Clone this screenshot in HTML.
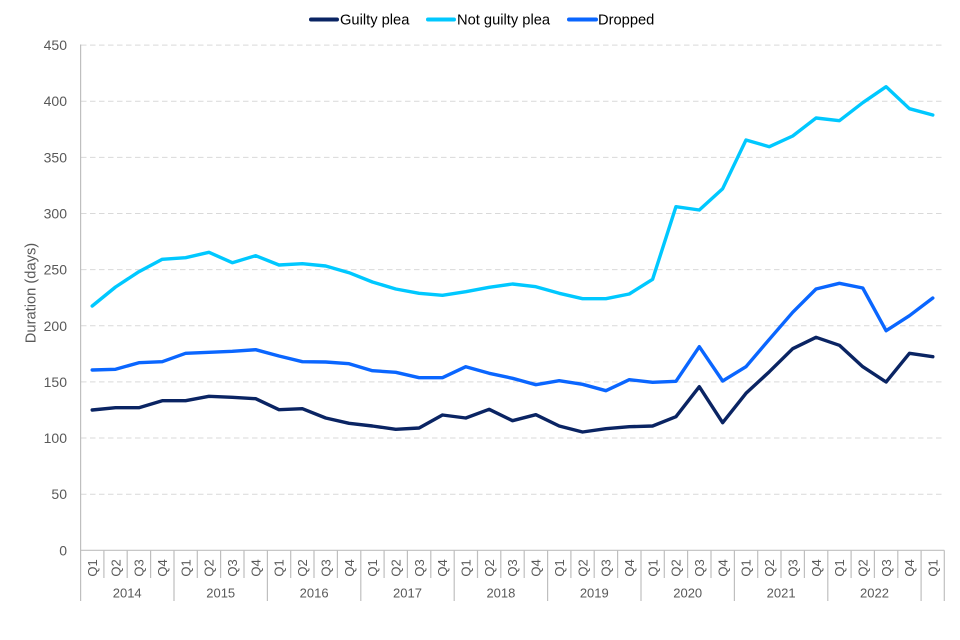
<!DOCTYPE html>
<html><head><meta charset="utf-8"><style>
html,body{margin:0;padding:0;background:#fff;}
svg{display:block;font-family:"Liberation Sans",Arial,sans-serif;}
</style></head><body>
<svg width="960" height="640" viewBox="0 0 960 640" xmlns="http://www.w3.org/2000/svg">
<!-- gridlines -->
<g stroke="#d9d9d9" stroke-width="1" stroke-dasharray="5.5,3.5">
<line x1="81" y1="494.2" x2="944" y2="494.2"/>
<line x1="81" y1="438" x2="944" y2="438"/>
<line x1="81" y1="381.9" x2="944" y2="381.9"/>
<line x1="81" y1="325.8" x2="944" y2="325.8"/>
<line x1="81" y1="269.6" x2="944" y2="269.6"/>
<line x1="81" y1="213.5" x2="944" y2="213.5"/>
<line x1="81" y1="157.4" x2="944" y2="157.4"/>
<line x1="81" y1="101.2" x2="944" y2="101.2"/>
<line x1="81" y1="45.1" x2="944" y2="45.1"/>
</g>
<!-- axes -->
<g stroke="#bfbfbf" stroke-width="1.2" fill="none">
<line x1="80.6" y1="44.5" x2="80.6" y2="601"/>
<line x1="80.6" y1="550.3" x2="944.3" y2="550.3"/>
<line x1="944.3" y1="550.3" x2="944.3" y2="601"/>
<!-- quarter ticks -->
<line x1="103.9" y1="550" x2="103.9" y2="578"/>
<line x1="127.2" y1="550" x2="127.2" y2="578"/>
<line x1="150.6" y1="550" x2="150.6" y2="578"/>
<line x1="197.3" y1="550" x2="197.3" y2="578"/>
<line x1="220.6" y1="550" x2="220.6" y2="578"/>
<line x1="244.0" y1="550" x2="244.0" y2="578"/>
<line x1="290.7" y1="550" x2="290.7" y2="578"/>
<line x1="314.0" y1="550" x2="314.0" y2="578"/>
<line x1="337.4" y1="550" x2="337.4" y2="578"/>
<line x1="384.1" y1="550" x2="384.1" y2="578"/>
<line x1="407.4" y1="550" x2="407.4" y2="578"/>
<line x1="430.8" y1="550" x2="430.8" y2="578"/>
<line x1="477.5" y1="550" x2="477.5" y2="578"/>
<line x1="500.8" y1="550" x2="500.8" y2="578"/>
<line x1="524.2" y1="550" x2="524.2" y2="578"/>
<line x1="570.9" y1="550" x2="570.9" y2="578"/>
<line x1="594.2" y1="550" x2="594.2" y2="578"/>
<line x1="617.6" y1="550" x2="617.6" y2="578"/>
<line x1="664.3" y1="550" x2="664.3" y2="578"/>
<line x1="687.6" y1="550" x2="687.6" y2="578"/>
<line x1="711.0" y1="550" x2="711.0" y2="578"/>
<line x1="757.7" y1="550" x2="757.7" y2="578"/>
<line x1="781.0" y1="550" x2="781.0" y2="578"/>
<line x1="804.4" y1="550" x2="804.4" y2="578"/>
<line x1="851.1" y1="550" x2="851.1" y2="578"/>
<line x1="874.4" y1="550" x2="874.4" y2="578"/>
<line x1="897.8" y1="550" x2="897.8" y2="578"/>
<!-- year separators -->
<line x1="174.0" y1="550" x2="174.0" y2="601"/>
<line x1="267.4" y1="550" x2="267.4" y2="601"/>
<line x1="360.8" y1="550" x2="360.8" y2="601"/>
<line x1="454.2" y1="550" x2="454.2" y2="601"/>
<line x1="547.6" y1="550" x2="547.6" y2="601"/>
<line x1="641.0" y1="550" x2="641.0" y2="601"/>
<line x1="734.4" y1="550" x2="734.4" y2="601"/>
<line x1="827.8" y1="550" x2="827.8" y2="601"/>
<line x1="921.1" y1="550" x2="921.1" y2="601"/>
</g>
<!-- y labels -->
<g fill="#595959" font-size="14" text-anchor="end">
<text x="67" y="555.3">0</text>
<text x="67" y="499.2">50</text>
<text x="67" y="443">100</text>
<text x="67" y="386.9">150</text>
<text x="67" y="330.8">200</text>
<text x="67" y="274.6">250</text>
<text x="67" y="218.5">300</text>
<text x="67" y="162.4">350</text>
<text x="67" y="106.2">400</text>
<text x="67" y="50.1">450</text>
</g>
<text transform="translate(35.5,293) rotate(-90)" fill="#595959" font-size="14.7" text-anchor="middle">Duration (days)</text>
<!-- quarter labels -->
<g fill="#595959" font-size="13" text-anchor="middle">
<text transform="translate(96.9,568) rotate(-90)">Q1</text>
<text transform="translate(120.25,568) rotate(-90)">Q2</text>
<text transform="translate(143.6,568) rotate(-90)">Q3</text>
<text transform="translate(166.95,568) rotate(-90)">Q4</text>
<text transform="translate(190.3,568) rotate(-90)">Q1</text>
<text transform="translate(213.65,568) rotate(-90)">Q2</text>
<text transform="translate(237.0,568) rotate(-90)">Q3</text>
<text transform="translate(260.35,568) rotate(-90)">Q4</text>
<text transform="translate(283.7,568) rotate(-90)">Q1</text>
<text transform="translate(307.05,568) rotate(-90)">Q2</text>
<text transform="translate(330.4,568) rotate(-90)">Q3</text>
<text transform="translate(353.75,568) rotate(-90)">Q4</text>
<text transform="translate(377.1,568) rotate(-90)">Q1</text>
<text transform="translate(400.45,568) rotate(-90)">Q2</text>
<text transform="translate(423.8,568) rotate(-90)">Q3</text>
<text transform="translate(447.15,568) rotate(-90)">Q4</text>
<text transform="translate(470.5,568) rotate(-90)">Q1</text>
<text transform="translate(493.85,568) rotate(-90)">Q2</text>
<text transform="translate(517.2,568) rotate(-90)">Q3</text>
<text transform="translate(540.55,568) rotate(-90)">Q4</text>
<text transform="translate(563.9,568) rotate(-90)">Q1</text>
<text transform="translate(587.25,568) rotate(-90)">Q2</text>
<text transform="translate(610.6,568) rotate(-90)">Q3</text>
<text transform="translate(633.95,568) rotate(-90)">Q4</text>
<text transform="translate(657.3,568) rotate(-90)">Q1</text>
<text transform="translate(680.65,568) rotate(-90)">Q2</text>
<text transform="translate(704.0,568) rotate(-90)">Q3</text>
<text transform="translate(727.35,568) rotate(-90)">Q4</text>
<text transform="translate(750.7,568) rotate(-90)">Q1</text>
<text transform="translate(774.05,568) rotate(-90)">Q2</text>
<text transform="translate(797.4,568) rotate(-90)">Q3</text>
<text transform="translate(820.75,568) rotate(-90)">Q4</text>
<text transform="translate(844.1,568) rotate(-90)">Q1</text>
<text transform="translate(867.45,568) rotate(-90)">Q2</text>
<text transform="translate(890.8,568) rotate(-90)">Q3</text>
<text transform="translate(914.15,568) rotate(-90)">Q4</text>
<text transform="translate(937.5,568) rotate(-90)">Q1</text>
</g>
<!-- year labels -->
<g fill="#595959" font-size="13" text-anchor="middle">
<text x="127.2" y="597.5">2014</text>
<text x="220.7" y="597.5">2015</text>
<text x="314.1" y="597.5">2016</text>
<text x="407.5" y="597.5">2017</text>
<text x="500.9" y="597.5">2018</text>
<text x="594.3" y="597.5">2019</text>
<text x="687.7" y="597.5">2020</text>
<text x="781.1" y="597.5">2021</text>
<text x="874.5" y="597.5">2022</text>
</g>
<!-- series -->
<g fill="none" stroke-width="3.4" stroke-linejoin="round" stroke-linecap="round">
<polyline stroke="#00c8ff" points="92.2,306 115.55,287 138.9,271.7 162.25,259.3 185.6,257.7 208.95,252.3 232.3,262.7 255.65,255.7 279,265 302.35,263.7 325.7,266 349.05,272.7 372.4,282 395.75,289 419.1,293.3 442.45,295.3 465.8,291.7 489.15,287.3 512.5,284 535.85,286.7 559.2,293.3 582.55,298.7 605.9,298.7 629.25,294 652.6,279.3 675.95,206.7 699.3,210 722.65,188.7 746,140 769.35,146.7 792.7,136 816.05,118 839.4,120.7 862.75,102.7 886.1,86.7 909.45,108.7 932.8,115"/>
<polyline stroke="#0a66ff" points="92.2,370 115.55,369.3 138.9,362.7 162.25,361.7 185.6,353.3 208.95,352.3 232.3,351.3 255.65,349.7 279,356 302.35,361.7 325.7,362 349.05,363.7 372.4,370.7 395.75,372.3 419.1,377.7 442.45,377.7 465.8,366.7 489.15,373.3 512.5,378.3 535.85,384.7 559.2,380.7 582.55,384.3 605.9,390.7 629.25,379.7 652.6,382.3 675.95,381.3 699.3,346.7 722.65,381 746,366.7 769.35,339.3 792.7,312.3 816.05,289 839.4,283.3 862.75,288 886.1,330.7 909.45,315.7 932.8,298"/>
<polyline stroke="#0a2463" points="92.2,410 115.55,407.7 138.9,407.7 162.25,400.7 185.6,400.7 208.95,396.3 232.3,397.3 255.65,398.7 279,409.7 302.35,408.7 325.7,418 349.05,423.3 372.4,426 395.75,429.3 419.1,428 442.45,415 465.8,418 489.15,409.3 512.5,420.7 535.85,414.7 559.2,426 582.55,432 605.9,428.7 629.25,426.7 652.6,426 675.95,416.7 699.3,386.7 722.65,422.7 746,393.3 769.35,371.7 792.7,348.7 816.05,337.3 839.4,345.3 862.75,366.7 886.1,382 909.45,353.3 932.8,356.7"/>
</g>
<!-- legend -->
<g stroke-width="4" stroke-linecap="round">
<line x1="311" y1="19.5" x2="337" y2="19.5" stroke="#0a2463"/>
<line x1="428" y1="19.5" x2="454" y2="19.5" stroke="#00c8ff"/>
<line x1="569" y1="19.5" x2="596" y2="19.5" stroke="#0a66ff"/>
</g>
<g fill="#000" font-size="14.7">
<text x="340" y="24.5">Guilty plea</text>
<text x="457" y="24.5">Not guilty plea</text>
<text x="598" y="24.5">Dropped</text>
</g>
</svg>
</body></html>
